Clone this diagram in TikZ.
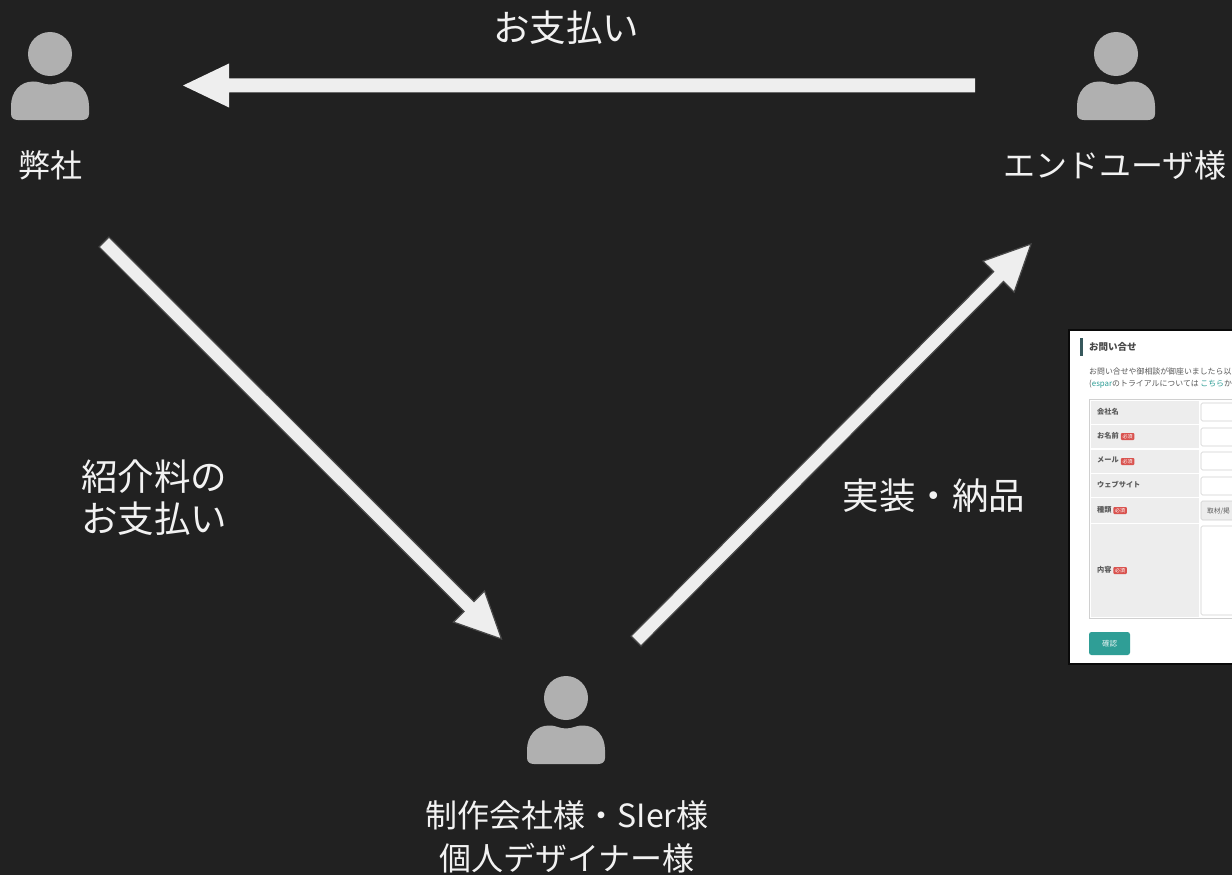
\documentclass[tikz,border=0pt]{standalone}
\usepackage{fontspec}
\setmainfont{Noto Sans CJK JP}
\usetikzlibrary{calc}
\definecolor{bgdark}{HTML}{212121}
\definecolor{iconfill}{HTML}{B0B0B0}
\definecolor{arrowfill}{HTML}{EEEEEE}
\definecolor{arrowedge}{HTML}{484848}
\definecolor{labeltext}{HTML}{F2F2F2}
\definecolor{formbar}{HTML}{37585C}
\definecolor{formtext}{HTML}{5A5A5A}
\definecolor{formteal}{HTML}{2F9E96}
\definecolor{formcell}{HTML}{EDEDED}
\definecolor{formline}{HTML}{D0D0D0}
\definecolor{formred}{HTML}{D9534F}
\tikzset{
  x=1pt,y=-1pt,
  person/.pic={
    \fill[iconfill] (0,0) circle[radius=22];
    \fill[iconfill] (-39,52) -- (-39,60) .. controls (-39,64) and (-36,66) .. (-32,66)
      -- (32,66) .. controls (36,66) and (39,64) .. (39,60) -- (39,52)
      .. controls (39,38) and (30,27.5) .. (17,27.5)
      .. controls (9,27.5) and (7,30.5) .. (0,30.5)
      .. controls (-7,30.5) and (-9,27.5) .. (-17,27.5)
      .. controls (-30,27.5) and (-39,38) .. (-39,52) -- cycle;
  },
  bigarrow/.style={draw=arrowedge,fill=arrowfill,line width=1.2pt,miter limit=20,
    to path={
      ($(\tikztostart)!7pt!90:(\tikztotarget)$)
      -- ($(\tikztotarget)!46pt!(\tikztostart)!7pt!90:(\tikztotarget)$)
      -- ($(\tikztotarget)!46pt!(\tikztostart)!22pt!90:(\tikztotarget)$)
      -- (\tikztotarget)
      -- ($(\tikztotarget)!46pt!(\tikztostart)!22pt!-90:(\tikztotarget)$)
      -- ($(\tikztotarget)!46pt!(\tikztostart)!7pt!-90:(\tikztotarget)$)
      -- ($(\tikztostart)!7pt!-90:(\tikztotarget)$) -- cycle}},
  toparrow/.style={bigarrow,draw=none},
  biglabel/.style={text=labeltext,font=\fontsize{36.5}{42}\selectfont,inner sep=0pt,align=center},
  namelabel/.style={text=labeltext,font=\fontsize{32}{43}\selectfont,inner sep=0pt,align=center},
  rowcell/.style={fill=formcell,draw=none},
  inputbox/.style={draw=formline,fill=white,line width=0.6pt,rounded corners=1.5pt},
  rowlabel/.style={anchor=west,inner sep=0pt,text=formtext,font=\fontsize{7.2}{9}\selectfont\bfseries},
  formcopy/.style={anchor=west,inner sep=0pt,text=formtext,font=\fontsize{7.9}{9}\selectfont},
  badge/.style={fill=formred,text=white,rounded corners=1pt,inner sep=0pt,minimum width=13.5pt,minimum height=7pt,font=\fontsize{5}{5}\selectfont},
}
\begin{document}
\begin{tikzpicture}
\useasboundingbox (0,0) rectangle (1232,875);
\fill[bgdark] (0,0) rectangle (1232,875);

% people
\pic at (50,54) {person};
\pic at (1116,54) {person};
\pic at (566,698) {person};
\node[namelabel] (heisha) at (50,165.5) {弊社};
\node[namelabel] (enduser) at (1115,165.5) {エンドユーザ様};
\node[namelabel] (partner) at (567,836.5) {制作会社様・SIer様\\個人デザイナー様};

% arrows
\coordinate (payS) at (975,85.5);
\coordinate (payT) at (183,85.5);
\coordinate (feeS) at (104,242);
\coordinate (feeT) at (501.5,639);
\coordinate (delS) at (636,641);
\coordinate (delT) at (1031,244);
\draw[toparrow] (payS) to (payT);
\draw[bigarrow] (feeS) to (feeT);
\draw[bigarrow] (delS) to (delT);

\node[biglabel] (paylabel) at (566,27.5) {お支払い};
\node[biglabel] (feelabel) at (154,497.5) {紹介料の\\お支払い};
\node[biglabel] (dellabel) at (934,496) {実装・納品};

% form screenshot
\fill[black!70!bgdark] (1068,329) rectangle (1232,665);
\fill[white] (1070,331) rectangle (1232,663);
\fill[formbar] (1080,338) rectangle (1083,356);
\node[anchor=west,inner sep=0pt,text=formtext!80!black,font=\fontsize{9.5}{11}\selectfont\bfseries] (ftitle) at (1089,347) {お問い合せ};
\node[formcopy] (fline1) at (1089,371) {お問い合せや御相談が御座いましたら以};
\node[formcopy] (fline2) at (1089,384) {(\textcolor{formteal}{espar}のトライアルについては \textcolor{formteal}{こちら}か};
\begin{scope}
\clip (1070,331) rectangle (1232,663);
\draw[formline,line width=0.8pt] (1089,399) rectangle (1240,618);
\fill[rowcell] (1091,401) rectangle (1199,424);
\fill[rowcell] (1091,425) rectangle (1199,448);
\fill[rowcell] (1091,450) rectangle (1199,473);
\fill[rowcell] (1091,474) rectangle (1199,497);
\fill[rowcell] (1091,498) rectangle (1199,523);
\fill[rowcell] (1091,524) rectangle (1199,617);
\draw[inputbox] (1201,403) rectangle (1240,421);
\draw[inputbox] (1201,428) rectangle (1240,446);
\draw[inputbox] (1201,452) rectangle (1240,470);
\draw[inputbox] (1201,477) rectangle (1240,495);
\draw[inputbox,fill=formcell] (1201,501) rectangle (1240,520);
\draw[inputbox] (1201,526) rectangle (1240,615);
\end{scope}
\node[rowlabel] (r1) at (1097,412) {会社名};
\node[rowlabel] (r2) at (1097,435.5) {お名前};
\node[badge] (b2) at (1127.5,436.5) {必須};
\node[rowlabel] (r3) at (1097,460) {メール};
\node[badge] (b3) at (1127.5,461.5) {必須};
\node[rowlabel] (r4) at (1097,485) {ウェブサイト};
\node[rowlabel] (r5) at (1097,510) {種類};
\node[badge] (b5) at (1120,510.5) {必須};
\node[rowlabel] (r6) at (1097,570) {内容};
\node[badge] (b6) at (1120,570.5) {必須};
\node[anchor=west,inner sep=0pt,text=formtext,font=\fontsize{6.7}{8}\selectfont] (sel) at (1207,511) {取材/掲};
\node[fill=formteal,rounded corners=2.5pt,minimum width=41pt,minimum height=23pt,inner sep=0pt,text=white!85!formteal,font=\fontsize{7.5}{10}\selectfont] (confirm) at (1109.5,643.5) {確認};
\end{tikzpicture}
\end{document}
